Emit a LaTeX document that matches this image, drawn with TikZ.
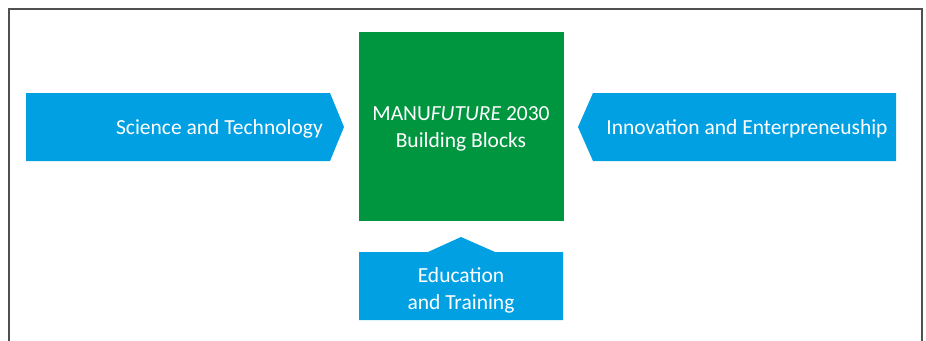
\documentclass[tikz,border=0pt]{standalone}
\usepackage{fontspec}
\setmainfont{Carlito}
\definecolor{arrowblue}{RGB}{0,160,227}
\definecolor{coregreen}{RGB}{0,150,64}
\definecolor{framegray}{RGB}{80,80,80}
\begin{document}
\begin{tikzpicture}[x=1pt,y=-1pt,
  label/.style={text=white,font=\fontsize{21.5}{27}\selectfont,align=center,inner sep=0pt},
  bluefill/.style={fill=arrowblue,draw=none},
  greenfill/.style={fill=coregreen,draw=none}]
  \useasboundingbox (0,0) rectangle (926,340);
  % open frame (top and sides)
  \draw[framegray,line width=1.6pt] (9,342) -- (9,9) -- (922,9) -- (922,342);
  % central building block
  \fill[greenfill] (359,32) rectangle (564,221);
  % incoming arrows
  \fill[bluefill] (26,93) -- (330,93) -- (344,127) -- (330,161) -- (26,161) -- cycle;
  \fill[bluefill] (896,93) -- (593,93) -- (578,127) -- (593,161) -- (896,161) -- cycle;
  \fill[bluefill] (359,252) -- (428,252) -- (461,237) -- (495,252) -- (563,252)
                  -- (563,320) -- (359,320) -- cycle;
  % labels
  \node[label] (core) at (461,129) {MANU\textit{FUTURE} 2030\\Building Blocks};
  \node[label,anchor=east] (sci) at (323,129) {Science and Technology};
  \node[label] (inno) at (747,129) {Innovation and Enterpreneuship};
  \node[label] (edu) at (461,290.5) {Education\\and Training};
\end{tikzpicture}
\end{document}
